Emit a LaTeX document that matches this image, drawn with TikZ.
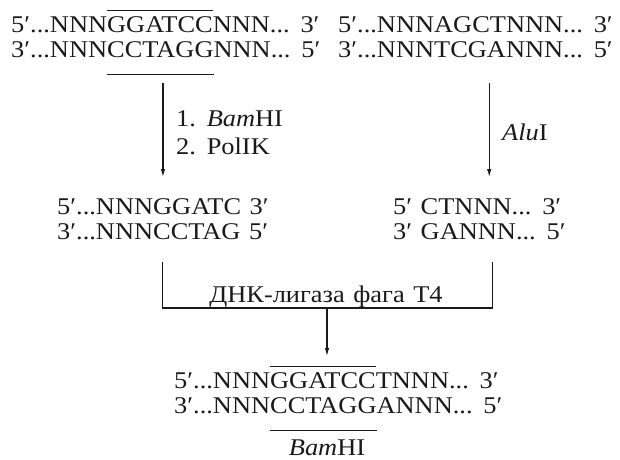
\documentclass[tikz,border=0pt]{standalone}
\usepackage{fontspec}
\setmainfont{Liberation Serif}[FakeStretch=1.1, WordSpace=1.3]
\usetikzlibrary{arrows.meta,calc}
\definecolor{ink}{HTML}{1A1A1A}
\newsavebox\sitebox
\newcommand\siteover[1]{\sbox\sitebox{#1}\rlap{\rule[21pt]{\wd\sitebox}{1.1pt}}\usebox\sitebox}
\newcommand\siteunder[1]{\sbox\sitebox{#1}\rlap{\rule[-18pt]{\wd\sitebox}{1.1pt}}\usebox\sitebox}

\begin{document}
\begin{tikzpicture}[x=1pt,y=-1pt,
  dna/.style={anchor=base west, inner sep=0pt, text=ink, font=\fontsize{24}{25}\selectfont},
  enz/.style={anchor=base west, inner sep=0pt, text=ink, font=\fontsize{24}{28}\selectfont},
  arr/.style={draw=ink, line width=1.1pt, -{Latex[length=8pt,width=4.5pt]}},
  bar/.style={draw=ink, line width=1.1pt}]
\useasboundingbox (0,0) rectangle (620,459);
% starting DNA
\node[dna] (srcLa) at (11,32) {5′...NNN\siteover{GGATCC}NNN... 3′};
\node[dna] (srcLb) at (11,57) {3′...NNN\siteunder{CCTAGG}NNN... 5′};
\node[dna] (srcRa) at (338,32) {5′...NNNAGCTNNN... 3′};
\node[dna] (srcRb) at (338,57) {3′...NNNTCGANNN... 5′};
% cut ends
\node[dna] (midLa) at (57,214) {5′...NNNGGATC 3′};
\node[dna] (midLb) at (57,239) {3′...NNNCCTAG 5′};
\node[dna] (midRa) at (393,214) {5′ CTNNN... 3′};
\node[dna] (midRb) at (393,239) {3′ GANNN... 5′};
% enzymes
\node[enz] (stepA) at (176,126) {1. \textit{Bam}HI};
\node[enz] (stepB) at (176,154) {2. PolIK};
\node[enz] (alu) at (502,140) {\textit{Alu}I};
\draw[arr] ($(srcLb.base -| midLa.base)+(0,26)$) -- ($(midLa.base)+(0,-37)$);
\draw[arr] ($(srcRb.base -| midRa.base)+(12,26)$) -- ($(midRa.base)+(12,-37)$);
% ligation
\coordinate (join) at (327,308);
\node[enz, anchor=base] (ligase) at (326,302) {ДНК-лигаза фага Т4};
\draw[bar] ($(midLb.base)+(0,23)$) |- (join) -| ($(midRb.base)+(13,23)$);
% product
\node[dna] (prodA) at (174,388) {5′...NNN\siteover{GGATCC}TNNN... 3′};
\node[dna] (prodB) at (174,413) {3′...NNN\siteunder{CCTAGG}ANNN... 5′};
\node[enz, anchor=base] (site) at (327,455) {\textit{Bam}HI};
\draw[arr] (join) -- ($(join |- prodA.base)+(0,-32)$);
\end{tikzpicture}
\end{document}
